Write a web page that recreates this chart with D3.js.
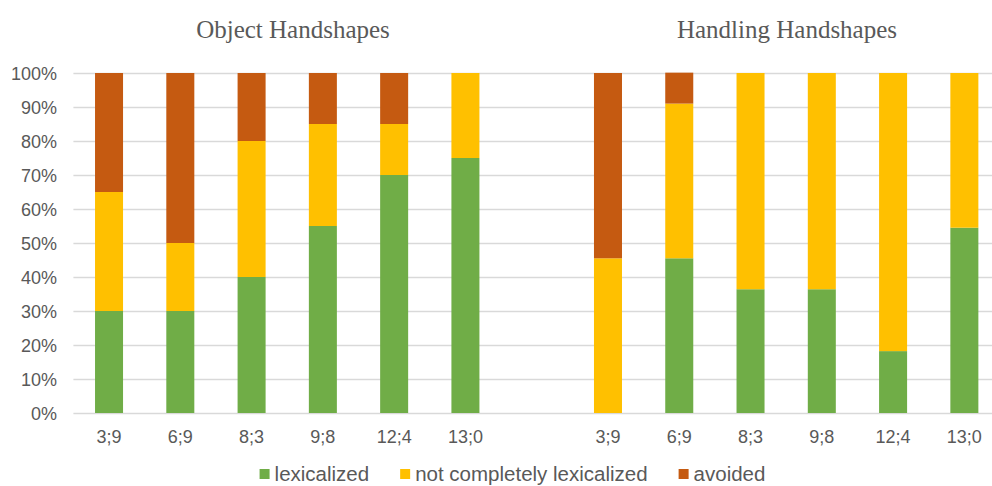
<!DOCTYPE html>
<html>
<head>
<meta charset="utf-8">
<script src="https://cdn.jsdelivr.net/npm/d3@7"></script>
<style>
  html, body { margin: 0; padding: 0; background: #fff; }
  svg { display: block; }
</style>
</head>
<body>
<svg id="chart" width="992" height="486"></svg>
<script>
// Ages of the children (years;months), shared by both panels
const ages = ["3;9", "6;9", "8;3", "9;8", "12;4", "13;0"];

// Object handshapes: percentage of responses per outcome
const objectLexicalized = [30, 30, 40, 55, 70, 75];
const objectNotComplete = [35, 20, 40, 30, 15, 25];
const objectAvoided     = [35, 50, 20, 15, 15, 0];

// Handling handshapes: percentage of responses per outcome
const handlingLexicalized = [0, 45.5, 36.4, 36.4, 18.2, 54.5];
const handlingNotComplete = [45.5, 45.5, 63.6, 63.6, 81.8, 45.5];
const handlingAvoided     = [54.5, 9.1, 0, 0, 0, 0];

const panelTitles = ["Object Handshapes", "Handling Handshapes"];
const seriesNames = ["lexicalized", "not completely lexicalized", "avoided"];
const seriesColors = ["#70AD47", "#FFC000", "#C55A11"];
const yTicks = [0, 10, 20, 30, 40, 50, 60, 70, 80, 90, 100];

// Build one row per slot; an empty slot separates the two panels
const rows = [];
ages.forEach((a, i) => rows.push({ slot: "o" + i, age: a, panel: 0,
  lexicalized: objectLexicalized[i], notComplete: objectNotComplete[i], avoided: objectAvoided[i] }));
rows.push({ slot: "gap", age: "", panel: -1, lexicalized: 0, notComplete: 0, avoided: 0 });
ages.forEach((a, i) => rows.push({ slot: "h" + i, age: a, panel: 1,
  lexicalized: handlingLexicalized[i], notComplete: handlingNotComplete[i], avoided: handlingAvoided[i] }));

const keys = ["lexicalized", "notComplete", "avoided"];

const svg = d3.select("#chart");
const W = 992;
const plotLeft = 73.4, plotRight = 1000, plotTop = 73, plotBottom = 413;

const x = d3.scaleBand()
  .domain(rows.map(d => d.slot))
  .range([plotLeft, plotRight])
  .paddingInner(0.607)
  .paddingOuter(0.3035);

const y = d3.scaleLinear().domain([0, 100]).range([plotBottom, plotTop]);

const labelFont = "'Liberation Sans', Arial, sans-serif";
const textColor = "#595959";

// Gridlines
svg.append("g")
  .selectAll("line")
  .data(yTicks)
  .join("line")
  .attr("x1", plotLeft)
  .attr("x2", W)
  .attr("y1", d => Math.round(y(d)) + 0.5)
  .attr("y2", d => Math.round(y(d)) + 0.5)
  .attr("stroke", "#D9D9D9")
  .attr("stroke-width", 1.6);

// Y axis labels
const yAxis = d3.axisLeft(y).tickValues(yTicks).tickFormat(d => d + "%").tickSize(0).tickPadding(0);
const yg = svg.append("g").attr("transform", `translate(57,0)`).call(yAxis);
yg.select(".domain").remove();
yg.selectAll("text")
  .attr("font-family", labelFont)
  .attr("font-size", 18)
  .attr("fill", textColor)
  .attr("dy", "0.36em");

// Stacked bars
const stack = d3.stack().keys(keys);
const layers = stack(rows.filter(r => r.panel >= 0));

svg.append("g")
  .selectAll("g")
  .data(layers)
  .join("g")
  .attr("fill", (d, i) => seriesColors[i])
  .selectAll("rect")
  .data(d => d.filter(p => p[1] - p[0] > 0))
  .join("rect")
  .attr("x", p => x(p.data.slot))
  .attr("width", x.bandwidth())
  .attr("y", p => y(p[1]))
  .attr("height", p => y(p[0]) - y(p[1]));

// X axis labels
const xAxis = d3.axisBottom(x)
  .tickValues(rows.filter(r => r.panel >= 0).map(r => r.slot))
  .tickFormat(s => rows.find(r => r.slot === s).age)
  .tickSize(0).tickPadding(0);
const xg = svg.append("g").attr("transform", `translate(0,${plotBottom})`).call(xAxis);
xg.select(".domain").remove();
xg.selectAll("text")
  .attr("font-family", labelFont)
  .attr("font-size", 18)
  .attr("fill", textColor)
  .attr("dy", 0)
  .attr("y", 30);

// Panel titles
const titleX = [293, 787];
svg.append("g")
  .selectAll("text")
  .data(panelTitles)
  .join("text")
  .attr("x", (d, i) => titleX[i])
  .attr("y", 37.5)
  .attr("text-anchor", "middle")
  .attr("font-family", "'Liberation Serif', 'Times New Roman', serif")
  .attr("font-size", 25)
  .attr("fill", textColor)
  .text(d => d);

// Legend
const legend = svg.append("g");
const legendY = 480.5;
const items = legend.selectAll("g")
  .data(seriesNames)
  .join("g");
items.append("rect")
  .attr("width", 10).attr("height", 10)
  .attr("y", legendY - 11.5)
  .attr("fill", (d, i) => seriesColors[i]);
items.append("text")
  .attr("x", 15)
  .attr("y", legendY)
  .attr("font-family", labelFont)
  .attr("font-size", 20.5)
  .attr("fill", textColor)
  .text(d => d);
let cursor = 0;
const offsets = [];
items.each(function () {
  offsets.push(cursor);
  const w = d3.select(this).select("text").node().getComputedTextLength();
  cursor += 15 + w + 31;
});
const totalW = cursor - 31;
const legendStart = 512.5 - totalW / 2;
items.attr("transform", (d, i) => `translate(${legendStart + offsets[i]},0)`);
</script>
</body>
</html>
